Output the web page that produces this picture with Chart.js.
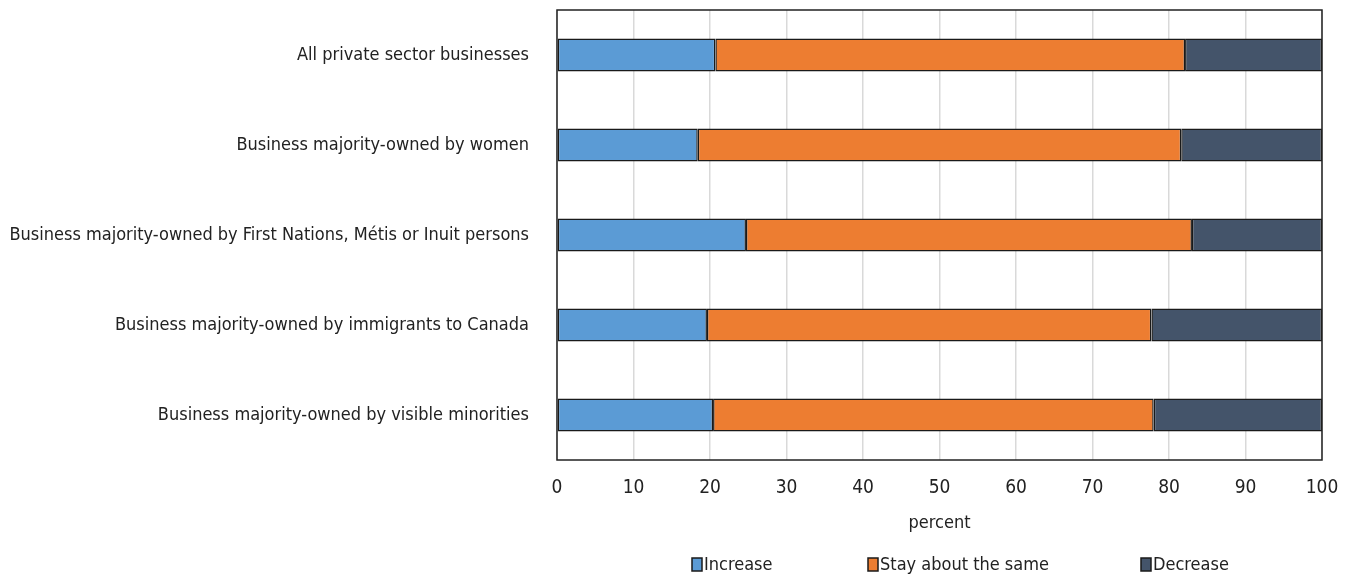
<!DOCTYPE html>
<html>
<head>
<meta charset="utf-8">
<script src="https://cdn.jsdelivr.net/npm/chart.js@4/dist/chart.umd.min.js"></script>
<style>
  html, body { margin: 0; padding: 0; background: #ffffff; }
  #wrap { width: 1351px; height: 578px; }
</style>
</head>
<body>
<div id="wrap"><canvas id="mixChart" width="1351" height="578"></canvas></div>
<script>
const categories = [
    'All private sector businesses',
    'Business majority-owned by women',
    'Business majority-owned by First Nations, Métis or Inuit persons',
    'Business majority-owned by immigrants to Canada',
    'Business majority-owned by visible minorities',
];
const increase = [20.7, 18.4, 24.7, 19.6, 20.4];
const staySame = [61.4, 63.2, 58.3, 58.1, 57.6];
const decrease = [17.9, 18.4, 17.0, 22.3, 22.0];
const xTicks = [0, 10, 20, 30, 40, 50, 60, 70, 80, 90, 100];

const inkColor = '#222222';
const fontFamily = '"Liberation Sans Narrow", "Arial Narrow", "DejaVu Sans Condensed", sans-serif';

// frame round the plot area, drawn after the bars
const frame = {
    id: 'frame',
    afterDatasetsDraw(chart) {
        const { ctx, chartArea: a } = chart;
        ctx.save();
        ctx.strokeStyle = inkColor;
        ctx.lineWidth = 1.5;
        ctx.strokeRect(a.left, a.top, a.right - a.left, a.bottom - a.top);
        ctx.restore();
    },
};

// legend with the wide, uneven spacing of the original
const wideLegend = {
    id: 'wideLegend',
    afterDraw(chart) {
        const { ctx } = chart;
        const xs = [692, 868, 1141];
        ctx.save();
        ctx.font = '18px ' + fontFamily;
        ctx.textBaseline = 'middle';
        ctx.textAlign = 'left';
        chart.data.datasets.forEach((ds, i) => {
            const x = xs[i];
            ctx.fillStyle = ds.backgroundColor;
            ctx.fillRect(x, 558, 10, 13);
            ctx.strokeStyle = '#1a1a1a';
            ctx.lineWidth = 1.5;
            ctx.strokeRect(x, 558, 10, 13);
            ctx.fillStyle = inkColor;
            ctx.fillText(ds.label, x + 12, 565);
        });
        ctx.restore();
    },
};

new Chart(document.getElementById('mixChart'), {
    type: 'bar',
    data: {
        labels: categories,
        datasets: [
            { label: 'Increase', data: increase, backgroundColor: '#5B9BD5' },
            { label: 'Stay about the same', data: staySame, backgroundColor: '#ED7D31' },
            { label: 'Decrease', data: decrease, backgroundColor: '#44546A' },
        ].map((ds) => ({
            ...ds,
            borderColor: '#1a1a1a',
            borderWidth: 1.5,
            borderSkipped: false,
            barPercentage: 33 / 90,
            categoryPercentage: 1,
        })),
    },
    options: {
        indexAxis: 'y',
        responsive: false,
        animation: false,
        layout: { padding: { top: 10, right: 29, left: 0, bottom: 0 } },
        plugins: {
            legend: { display: false },
            tooltip: { enabled: false },
        },
        scales: {
            x: {
                stacked: true,
                min: 0,
                max: 100,
                afterBuildTicks(scale) {
                    scale.ticks = xTicks.map((v) => ({ value: v }));
                },
                afterFit(scale) {
                    scale.height = 118;
                    scale.paddingLeft = 0;
                    scale.paddingRight = 0;
                },
                grid: { color: '#d9d9d9', lineWidth: 1.5, drawTicks: false },
                border: { display: false },
                ticks: {
                    color: inkColor,
                    padding: 17,
                    font: { family: fontFamily, size: 19 },
                    maxRotation: 0,
                },
                title: {
                    display: true,
                    text: 'percent',
                    color: inkColor,
                    font: { family: fontFamily, size: 18 },
                    padding: { top: 0, bottom: 44 },
                },
            },
            y: {
                stacked: true,
                afterFit(scale) {
                    scale.width = 557;
                    scale.paddingTop = 0;
                    scale.paddingBottom = 0;
                },
                grid: { display: false, drawTicks: false },
                border: { display: false },
                ticks: {
                    color: inkColor,
                    padding: 28,
                    font: { family: fontFamily, size: 18 },
                },
            },
        },
    },
    plugins: [frame, wideLegend],
});
</script>
</body>
</html>
